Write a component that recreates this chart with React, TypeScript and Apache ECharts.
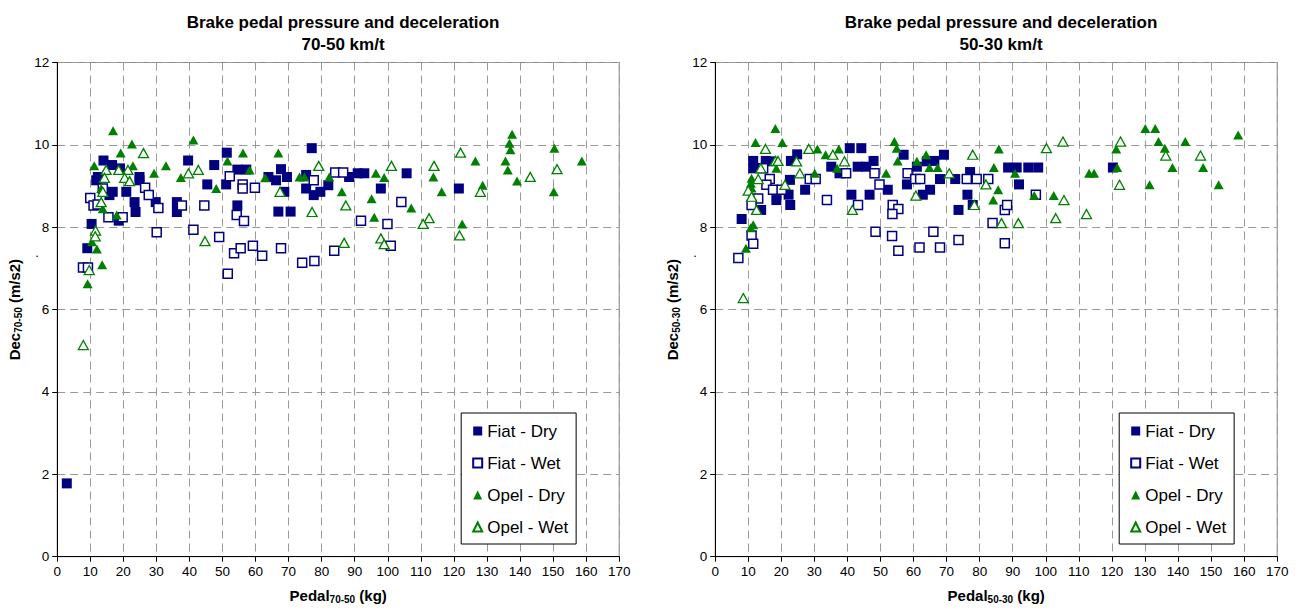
import React, { useEffect, useRef } from 'react';
import * as echarts from 'echarts';

const chartTitles = ['Brake pedal pressure and deceleration\n70-50 km/t', 'Brake pedal pressure and deceleration\n50-30 km/t'];
const subscripts = ['70-50', '50-30'];
const seriesNames = ['Fiat - Dry', 'Fiat - Wet', 'Opel - Dry', 'Opel - Wet'];

// 70-50 km/t
const fiatDry70 = [
  [2.9, 1.78], [14.0, 9.62], [16.6, 9.51], [12.3, 9.22], [11.8, 9.14], [19.0, 9.43], [24.9, 9.22], [24.9, 9.14],
  [16.8, 8.86], [15.8, 8.78], [20.9, 8.86], [23.4, 8.61], [23.7, 8.37], [29.8, 8.61], [36.2, 8.61], [36.2, 8.37],
  [39.6, 9.62], [47.5, 9.51], [51.3, 9.81], [45.4, 9.04], [51.1, 9.04], [54.5, 9.4], [57.2, 9.4], [54.5, 8.53],
  [18.6, 8.16], [10.4, 8.08], [9.1, 7.49], [77.0, 9.92], [67.7, 9.41], [63.9, 9.22], [66.2, 9.14], [69.5, 9.22],
  [75.3, 9.27], [75.3, 8.94], [77.6, 8.78], [79.6, 8.86], [82.0, 9.02], [68.7, 8.86], [66.9, 8.38], [70.6, 8.38],
  [88.3, 9.22], [90.9, 9.31], [92.9, 9.31], [97.9, 8.94], [105.7, 9.31], [121.5, 8.94]
];
const fiatWet70 = [
  [13.8, 8.94], [10.0, 8.71], [11.0, 8.53], [12.2, 8.55], [15.5, 8.24], [19.8, 8.24], [26.6, 8.96], [27.7, 8.78],
  [30.6, 8.47], [37.7, 8.53], [44.5, 8.53], [52.2, 9.24], [56.1, 9.04], [56.1, 8.94], [59.8, 8.96], [54.3, 8.30],
  [56.5, 8.15], [30.1, 7.88], [41.2, 7.94], [49.0, 7.76], [53.5, 7.37], [55.5, 7.49], [59.2, 7.55], [51.6, 6.87],
  [7.8, 7.02], [9.3, 7.02], [77.6, 9.14], [84.1, 9.33], [86.5, 9.33], [104.1, 8.61], [91.9, 8.16], [99.9, 8.08],
  [62.0, 7.31], [67.7, 7.49], [74.1, 7.14], [77.8, 7.18], [83.8, 7.43], [100.9, 7.55]
];
const opelDry70 = [
  [16.9, 10.34], [22.6, 10.02], [19.2, 9.8], [11.2, 9.49], [22.9, 9.49], [29.3, 9.31], [32.9, 9.49], [37.4, 9.21],
  [41.2, 10.12], [51.5, 9.61], [56.2, 9.8], [58.2, 9.39], [48.1, 8.94], [13.3, 8.94], [13.8, 8.45], [18.0, 8.30],
  [10.5, 7.65], [12.0, 7.47], [13.6, 7.09], [9.2, 6.63], [66.9, 9.8], [62.9, 9.2], [73.3, 9.22], [74.8, 9.22],
  [82.3, 9.22], [86.1, 8.86], [95.1, 8.69], [96.4, 9.31], [98.9, 9.21], [113.8, 9.22], [116.3, 8.86], [107.1, 8.47],
  [95.9, 8.24], [137.6, 10.26], [136.8, 10.04], [137.1, 9.88], [150.4, 9.92], [126.5, 9.61], [135.6, 9.61],
  [136.3, 9.39], [158.7, 9.61], [139.1, 9.12], [128.7, 9.02], [150.2, 8.86], [122.5, 8.08]
];
const opelWet70 = [
  [26.1, 9.8], [14.8, 9.39], [18.6, 9.39], [21.4, 9.39], [14.3, 9.2], [20.4, 9.2], [21.9, 9.12], [39.7, 9.31],
  [42.7, 9.39], [13.8, 8.86], [13.3, 8.61], [11.6, 7.92], [11.5, 7.78], [44.7, 7.66], [9.7, 6.96], [7.9, 5.14],
  [79.1, 9.49], [67.4, 8.86], [77.1, 8.37], [87.3, 8.53], [101.1, 9.49], [114.0, 9.49], [112.5, 8.22], [110.7, 8.08],
  [86.8, 7.62], [97.9, 7.73], [98.9, 7.59], [122.0, 9.81], [128.0, 8.86], [143.1, 9.22], [151.2, 9.41], [121.7, 7.80]
];

// 50-30 km/t
const fiatDry50 = [
  [11.5, 9.61], [11.5, 9.43], [15.3, 9.61], [17.0, 9.6], [24.8, 9.77], [22.9, 9.61], [22.6, 9.15], [27.2, 8.91],
  [22.2, 8.79], [22.7, 8.54], [18.5, 8.66], [13.9, 8.42], [8.0, 8.2], [40.7, 9.92], [44.2, 9.92], [35.1, 9.47],
  [37.6, 9.31], [43.1, 9.47], [45.7, 9.47], [47.9, 9.61], [41.2, 8.79], [46.7, 8.79], [52.2, 8.91], [57.0, 9.76],
  [58.0, 9.04], [61.0, 9.47], [62.8, 8.79], [65.0, 8.91], [64.0, 9.6], [66.3, 9.61], [69.2, 9.76], [68.0, 9.17],
  [72.6, 9.17], [77.1, 9.34], [76.3, 8.79], [73.6, 8.42], [77.9, 8.54], [88.6, 9.45], [91.2, 9.45], [94.7, 9.45],
  [97.7, 9.45], [91.9, 9.04], [120.3, 9.45]
];
const fiatWet50 = [
  [14.5, 9.43], [16.5, 9.17], [15.5, 9.03], [17.5, 8.91], [20.1, 8.91], [13.0, 8.7], [11.0, 8.54], [11.0, 7.8],
  [11.5, 7.6], [7.0, 7.25], [28.6, 9.17], [30.4, 9.17], [39.6, 9.31], [48.2, 9.31], [49.7, 9.04], [33.8, 8.66],
  [43.2, 8.54], [53.7, 8.54], [55.4, 8.44], [53.6, 8.32], [48.5, 7.89], [53.5, 7.79], [55.4, 7.43], [58.2, 9.31],
  [60.5, 9.17], [62.0, 9.17], [76.1, 9.17], [79.1, 9.17], [82.6, 9.17], [87.6, 8.42], [88.3, 8.54], [97.0, 8.79],
  [83.9, 8.1], [66.0, 7.89], [73.6, 7.69], [61.8, 7.51], [68.0, 7.51], [87.6, 7.61]
];
const opelDry50 = [
  [18.2, 10.4], [12.2, 10.06], [20.3, 10.06], [30.9, 9.9], [33.4, 9.76], [37.4, 9.9], [36.9, 9.43], [18.5, 9.43],
  [30.1, 9.31], [11.0, 9.19], [10.8, 9.07], [11.0, 8.95], [11.5, 8.06], [10.7, 7.99], [9.3, 7.49], [54.2, 10.08],
  [54.9, 9.92], [55.2, 9.61], [51.7, 9.31], [63.8, 9.76], [61.0, 9.6], [64.8, 9.45], [67.3, 9.45], [85.8, 9.9],
  [84.3, 9.45], [90.7, 9.31], [85.6, 8.91], [84.1, 8.66], [96.5, 8.77], [102.4, 8.77], [113.1, 9.31], [114.6, 9.31],
  [130.1, 10.4], [133.1, 10.4], [158.2, 10.24], [134.1, 10.08], [142.2, 10.08], [121.3, 9.9], [136.0, 9.92],
  [121.6, 9.45], [138.3, 9.45], [147.6, 9.45], [131.4, 9.03], [152.3, 9.03]
];
const opelWet50 = [
  [15.2, 9.9], [28.3, 9.9], [35.6, 9.76], [18.2, 9.61], [19.0, 9.61], [24.6, 9.6], [39.1, 9.6], [13.8, 9.43],
  [25.6, 9.31], [13.0, 9.17], [21.1, 9.03], [10.0, 8.89], [11.0, 8.74], [12.5, 8.42], [41.5, 8.42], [8.5, 6.28],
  [77.9, 9.76], [70.8, 9.31], [81.9, 9.04], [60.7, 8.77], [78.4, 8.54], [86.6, 8.1], [91.7, 8.1], [100.2, 9.92],
  [105.2, 10.08], [105.5, 8.66], [103.0, 8.22], [112.3, 8.32], [122.6, 10.08], [136.3, 9.74], [146.8, 9.74], [122.3, 9.03]
];

const panels = [
  [fiatDry70, fiatWet70, opelDry70, opelWet70],
  [fiatDry50, fiatWet50, opelDry50, opelWet50],
];

const FONT = '"Liberation Sans", Arial, sans-serif';
const NAVY = '#000080';
const GREEN = '#008000';

const styles = [
  { symbol: 'rect', symbolSize: 10, itemStyle: { color: NAVY, borderColor: NAVY, borderWidth: 0, opacity: 1 } },
  { symbol: 'rect', symbolSize: 9, itemStyle: { color: '#ffffff', borderColor: NAVY, borderWidth: 1.5, opacity: 1 } },
  { symbol: 'triangle', symbolSize: [10, 9], itemStyle: { color: GREEN, borderColor: GREEN, borderWidth: 0, opacity: 1 } },
  { symbol: 'triangle', symbolSize: [10, 9], itemStyle: { color: '#ffffff', borderColor: GREEN, borderWidth: 1.3, opacity: 1 } },
];

const gridLefts = [57.2, 715.2];
const titleCenters = [338, 996];

export default function App() {
  const ref = useRef<HTMLDivElement>(null);
  useEffect(() => {
    if (!ref.current) return;
    const chart = echarts.init(ref.current, null, { renderer: 'svg' });
    const dash = { color: '#999999', type: [8, 5] as any, width: 1 };
    const option: any = {
      animation: false,
      backgroundColor: '#ffffff',
      textStyle: { fontFamily: FONT },
      title: chartTitles.map((t, i) => ({
        text: t,
        left: titleCenters[i],
        textAlign: 'center',
        top: 6,
        textStyle: { fontFamily: FONT, fontSize: 17, fontWeight: 'bold', color: '#000', lineHeight: 22 },
      })),
      grid: gridLefts.map((l) => ({
        left: l, top: 62.5, width: 562, height: 494.2,
        show: true, borderColor: '#888888', borderWidth: 1, backgroundColor: 'transparent',
      })),
      xAxis: gridLefts.map((_, i) => ({
        type: 'value', gridIndex: i, min: 0, max: 170, interval: 10,
        name: `{a|Pedal}{b|${subscripts[i]}}{a| (kg)}`,
        nameLocation: 'middle', nameGap: 30,
        nameTextStyle: {
          rich: {
            a: { fontFamily: FONT, fontSize: 15, fontWeight: 'bold', color: '#000', lineHeight: 18, verticalAlign: 'middle' },
            b: { fontFamily: FONT, fontSize: 10, fontWeight: 'bold', color: '#000', lineHeight: 12, verticalAlign: 'bottom' },
          },
        },
        axisLine: { show: true, onZero: false, lineStyle: { color: '#000', width: 1 } },
        axisTick: { show: true, length: 5, lineStyle: { color: '#000' } },
        axisLabel: { fontFamily: FONT, fontSize: 13.5, color: '#000', margin: 8 },
        splitLine: { show: true, lineStyle: dash },
      })),
      yAxis: gridLefts.map((_, i) => ({
        type: 'value', gridIndex: i, min: 0, max: 12, interval: 2,
        name: `{a|Dec}{b|${subscripts[i]}}{a| (m/s2)}`,
        nameLocation: 'middle', nameGap: 34, nameRotate: 90,
        nameTextStyle: {
          rich: {
            a: { fontFamily: FONT, fontSize: 15, fontWeight: 'bold', color: '#000', lineHeight: 18, verticalAlign: 'middle' },
            b: { fontFamily: FONT, fontSize: 10, fontWeight: 'bold', color: '#000', lineHeight: 12, verticalAlign: 'bottom' },
          },
        },
        axisLine: { show: true, onZero: false, lineStyle: { color: '#000', width: 1 } },
        axisTick: { show: true, length: 5, lineStyle: { color: '#000' } },
        axisLabel: { fontFamily: FONT, fontSize: 13.5, color: '#000', margin: 8 },
        splitLine: { show: true, lineStyle: dash },
      })),
      legend: gridLefts.map((l) => ({
        orient: 'vertical',
        left: l + 404,
        top: 413,
        padding: [9, 8, 8, 11],
        itemWidth: 9,
        itemHeight: 9,
        itemGap: 14,
        backgroundColor: '#ffffff',
        borderColor: '#000000',
        borderWidth: 1,
        borderRadius: 0,
        selectedMode: false,
        textStyle: { fontFamily: FONT, fontSize: 17, color: '#000', lineHeight: 18 },
        data: seriesNames,
      })),
      graphic: gridLefts.map((l) => ({
        type: 'text', x: l - 22, y: 259,
        style: { text: '.', fontSize: 13, fontFamily: FONT, fill: '#000', verticalAlign: 'bottom' },
      })),
      series: panels.flatMap((sets, gi) =>
        sets.map((d, si) => ({
          type: 'scatter',
          name: seriesNames[si],
          xAxisIndex: gi,
          yAxisIndex: gi,
          data: d,
          symbol: styles[si].symbol,
          symbolSize: styles[si].symbolSize,
          itemStyle: styles[si].itemStyle,
          emphasis: { disabled: true },
          z: 2 + si,
        }))
      ),
    };
    chart.setOption(option);
    return () => chart.dispose();
  }, []);
  return <div ref={ref} style={{ position: 'absolute', left: 0, top: 0, width: 1301, height: 613 }} />;
}
